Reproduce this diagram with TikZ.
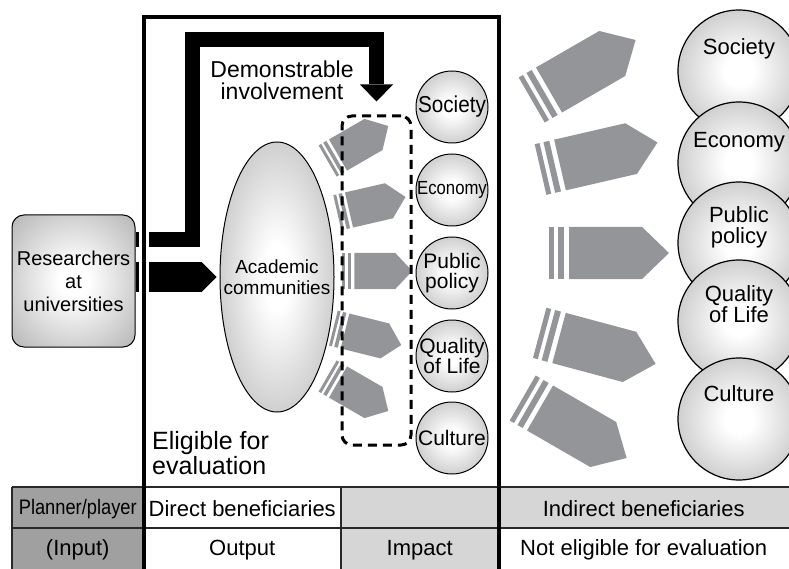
\documentclass[tikz,border=0pt]{standalone}
\usepackage{fontspec}
\setmainfont{Liberation Sans}
\usepackage{tikz}
\usetikzlibrary{arrows.meta, calc, shapes.geometric}
\definecolor{arrowGray}{RGB}{147,149,152}
\definecolor{ballGray}{RGB}{145,145,145}
\definecolor{cellDark}{RGB}{160,160,160}
\definecolor{cellLight}{RGB}{214,214,214}
\definecolor{lineGray}{RGB}{40,40,40}
\pgfdeclareradialshading{softBall}{\pgfpoint{0bp}{0bp}}{color(0bp)=(white); color(6bp)=(white); color(50bp)=(ballGray); color(72bp)=(ballGray)}
\tikzset{
  softShade/.style={shade, shading=softBall},
  smallBall/.style={circle, draw, line width=1pt, minimum size=72pt, inner sep=0pt, softShade},
  bigBall/.style={circle, draw, line width=1.2pt, minimum size=122pt, inner sep=0pt, softShade},
  smallLabel/.style={align=center, inner sep=0pt, font=\fontsize{21}{20}\selectfont},
  bigLabel/.style={align=center, inner sep=0pt, font=\fontsize{22}{21}\selectfont},
  cellText/.style={inner sep=0pt, font=\fontsize{22}{22}\selectfont}
}
% tail point, angle, body, head, half width, stripe scale
\newcommand{\grayArrow}[6]{%
  \begin{scope}[shift={#1}, rotate=#2]
    \fill [arrowGray] (0,-#5) -- (#3,-#5) -- (#3+#4,0) -- (#3,#5) -- (0,#5) -- cycle;
    \fill [arrowGray] (-5*#6,-#5) rectangle (-11*#6,#5);
    \fill [arrowGray] (-15*#6,-#5) rectangle (-20*#6,#5);
  \end{scope}}

\begin{document}
\begin{tikzpicture}[x=1pt, y=-1pt]
  \useasboundingbox (0,0) rectangle (789,569);

  % table
  \fill [cellDark] (12,487) rectangle (143.5,569);
  \fill [cellLight] (341,487) rectangle (498.5,569);
  \fill [cellLight] (498.5,487) rectangle (789,528);
  \draw [line width=2pt, lineGray] (12,487) -- (789,487) (12,528) -- (789,528);
  \draw [line width=1.5pt, lineGray] (12,487) -- (12,569) (341,487) -- (341,569);
  \node [cellText, font=\fontsize{21}{21}\selectfont] (cellPlanner) at (77.75,509) {\scalebox{0.87}[1]{Planner/player}};
  \node [cellText] (cellDirect) at (242.25,509) {Direct beneficiaries};
  \node [cellText] (cellIndirect) at (643.75,509) {Indirect beneficiaries};
  \node [cellText] (cellInput) at (77.75,550) {(Input)};
  \node [cellText] (cellOutput) at (242.25,550) {Output};
  \node [cellText] (cellImpact) at (419.75,550) {Impact};
  \node [cellText] (cellNotEligible) at (643.75,550) {Not eligible for evaluation};

  % researchers and academic communities
  \node [draw, line width=1pt, rounded corners=12pt, minimum width=123pt, minimum height=132pt, softShade, align=center, font=\fontsize{20}{23}\selectfont] (researchers) at (73.5,281) {Researchers\\at\\universities};
  \node [ellipse, draw, line width=1pt, minimum width=114pt, minimum height=270pt, inner sep=0pt, softShade] (academic) at (277,277) {};
  \node [align=center, inner sep=0pt, font=\fontsize{19}{21}\selectfont] (academicText) at (academic.center) {Academic\\communities};

  % output arrows
  \grayArrow{(338,155)}{30}{41}{17}{18}{0.6}
  \grayArrow{(349,210)}{13}{41}{17}{18}{0.6}
  \grayArrow{(354.3,271)}{0}{41}{17}{18}{0.6}
  \grayArrow{(345,331)}{-14}{41}{17}{18}{0.6}
  \grayArrow{(338,382)}{-30}{41}{17}{18}{0.6}
  \node [draw, line width=3pt, dash pattern=on 9pt off 6pt, rounded corners=10pt, minimum width=69pt, minimum height=329pt, inner sep=0pt] (impactBox) at (376.5,280.5) {};

  % black arrows
  \draw [line width=30pt, -{Triangle[width=30pt, length=15pt, line width=0pt]}] (researchers.east |- academic.west) -- ([xshift=-3pt]academic.west);
  \draw [line width=15pt, -{Triangle[width=33pt, length=17pt, line width=0pt]}] ([yshift=41pt]researchers.east) -- ++(57,0) |- ([yshift=75pt]impactBox.north) -- ([yshift=13pt]impactBox.north);
  \node [anchor=north, inner sep=0pt, align=center, font=\fontsize{23}{22}\selectfont] (involvementLabel) at (282,61) {Demonstrable\\involvement};

  % evaluation frame
  \draw [white, line width=10pt] (143.5,226) -- (143.5,298);
  \draw [line width=4pt] (143.5,569) -- (143.5,17.5) -- (498.5,17.5) -- (498.5,569);
  \node [anchor=north west, inner sep=0pt, align=left, font=\fontsize{25}{25}\selectfont] (eligibleLabel) at (152,431) {Eligible for\\evaluation};

  % impact
  \node [smallBall] (iSociety) at (452,107) {};
  \node [smallLabel, font=\fontsize{23}{23}\selectfont] (iSocietyText) at (iSociety) {\scalebox{0.9}[1]{Society}};
  \node [smallBall] (iEconomy) at (452,190) {};
  \node [smallLabel, font=\fontsize{19}{19}\selectfont] (iEconomyText) at (iEconomy) {\scalebox{0.88}[1]{Economy}};
  \node [smallBall] (iPolicy) at (452,273) {};
  \node [smallLabel] (iPolicyText) at (iPolicy) {Public\\policy};
  \node [smallBall] (iQuality) at (452,356) {};
  \node [smallLabel] (iQualityText) at (iQuality) {Quality\\of Life};
  \node [smallBall] (iCulture) at (452,438) {};
  \node [smallLabel] (iCultureText) at (iCulture) {Culture};

  % indirect beneficiaries
  \grayArrow{(549,90)}{30}{73}{27}{26}{1}
  \grayArrow{(560,165)}{13}{73}{27}{26}{1}
  \grayArrow{(569,253)}{0}{73}{27}{26}{1}
  \grayArrow{(559,338)}{-15}{73}{27}{26}{1}
  \grayArrow{(540,408)}{-30}{73}{27}{26}{1}
  \node [bigBall] (bSociety) at (739,71) {};
  \node [bigBall] (bEconomy) at (739,163) {};
  \node [bigBall] (bPolicy) at (739,243) {};
  \node [bigBall] (bQuality) at (739,321) {};
  \node [bigBall] (bCulture) at (739,419) {};
  \node [bigLabel] (bSocietyText) at ([yshift=22pt]bSociety.center) {Society};
  \node [bigLabel] (bEconomyText) at ([yshift=21pt]bEconomy.center) {Economy};
  \node [bigLabel] (bPolicyText) at ([yshift=16pt]bPolicy.center) {Public\\policy};
  \node [bigLabel] (bQualityText) at ([yshift=17pt]bQuality.center) {Quality\\of Life};
  \node [bigLabel] (bCultureText) at ([yshift=25pt]bCulture.center) {Culture};
\end{tikzpicture}
\end{document}
